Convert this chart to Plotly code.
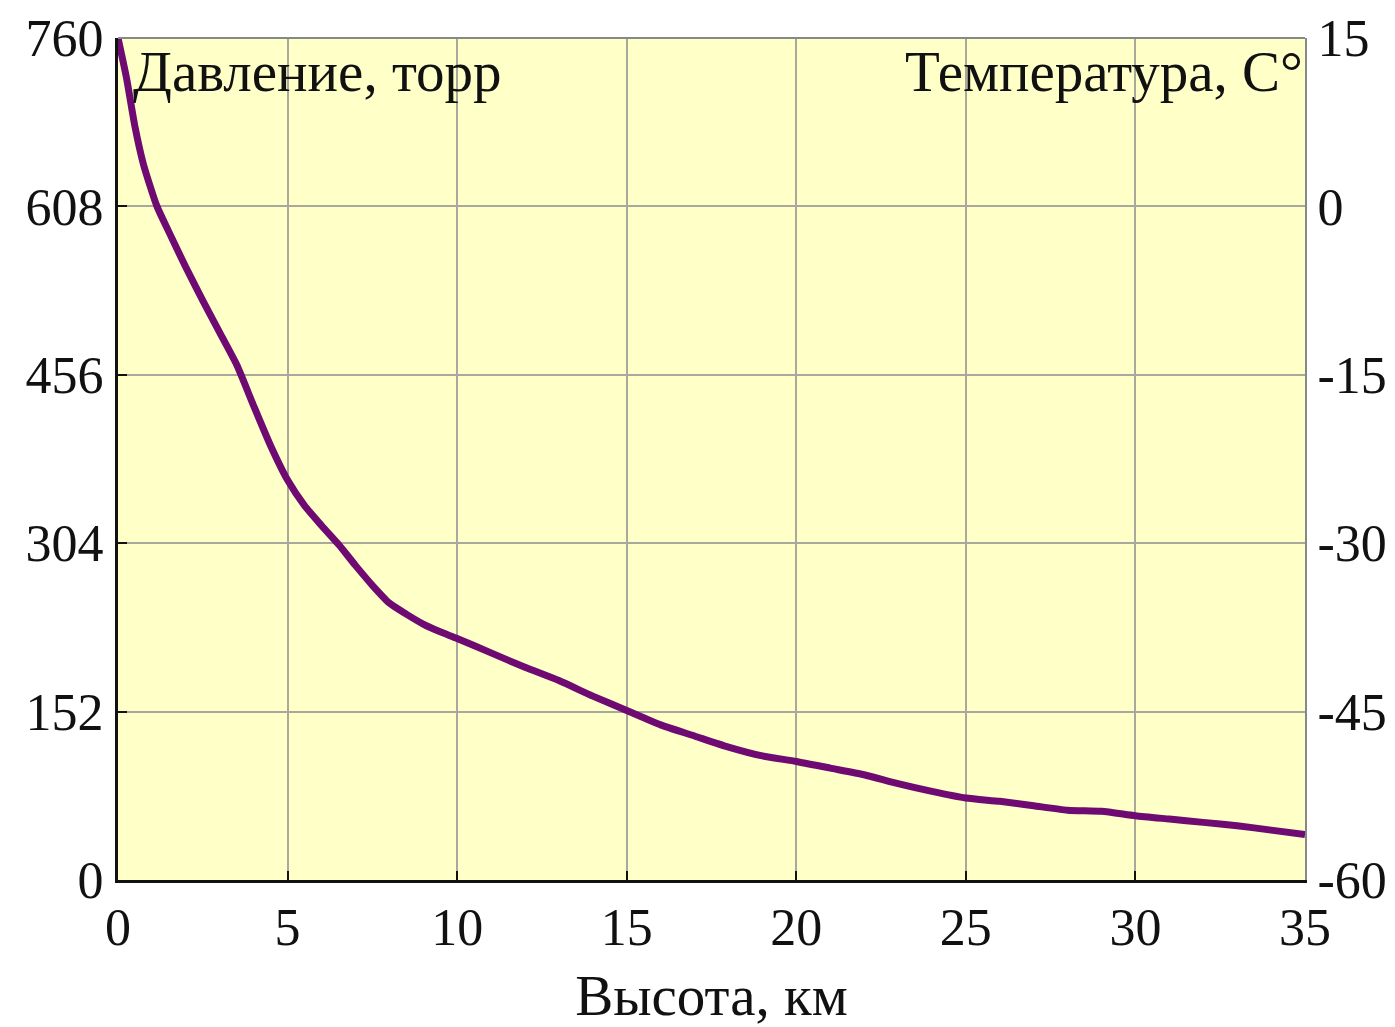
import plotly.graph_objects as go

# Height, km
height_km = [0, 0.25, 0.5, 0.75, 1.15, 1.5, 2, 2.5, 3, 3.5, 4, 4.5, 5, 5.5, 6, 6.5, 7,
             7.5, 8, 8.5, 9, 9.5, 10, 11, 12, 13, 14, 15, 16, 17, 18, 19, 20, 21, 22,
             23, 24, 25, 26, 27, 28, 29, 30, 31, 32, 33, 34, 35]
# Pressure, torr
pressure_torr = [760, 724, 680, 646, 608, 585, 553, 523, 494, 465, 428, 392, 361, 338,
                 320, 303, 284, 266, 250, 240, 231, 224, 218, 205, 192, 180, 166, 153,
                 140, 130, 120, 112, 107, 101, 95, 87, 80, 74, 71, 67, 63, 62, 58, 55,
                 52, 49, 45, 41]

x_ticks = [0, 5, 10, 15, 20, 25, 30, 35]
p_ticks = [0, 152, 304, 456, 608, 760]
t_ticks = [-60, -45, -30, -15, 0, 15]

num_font = dict(family="Liberation Serif, serif", size=52, color="#111111")
txt_font = dict(family="Liberation Serif, serif", size=57, color="#111111")

fig = go.Figure()
fig.add_trace(go.Scatter(x=height_km, y=pressure_torr, mode="lines",
                         line=dict(color="#6E0A72", width=7, shape="spline",
                                   smoothing=0.6),
                         showlegend=False, hoverinfo="x+y"))
# empty trace to carry the temperature axis
fig.add_trace(go.Scatter(x=[None], y=[None], yaxis="y2", showlegend=False,
                         hoverinfo="skip"))

fig.update_layout(
    width=1387, height=1019,
    margin=dict(l=110, r=90, t=30, b=147, autoexpand=False),
    paper_bgcolor="white",
    plot_bgcolor="#FFFFC8",
    xaxis=dict(range=[0, 35], tickvals=x_ticks, ticktext=[str(v) for v in x_ticks],
               showgrid=True, gridcolor="#A8A89C", gridwidth=2,
               showline=True, linecolor="#111111", linewidth=3,
               ticks="inside", ticklen=9, tickwidth=2, tickcolor="#111111",
               tickfont=num_font, zeroline=False, automargin=False,
               title=dict(text="Высота, км", font=txt_font, standoff=22)),
    yaxis=dict(range=[0, 760], tickvals=p_ticks, ticktext=[str(v) for v in p_ticks],
               showgrid=True, gridcolor="#A8A89C", gridwidth=2,
               showline=True, linecolor="#111111", linewidth=3,
               ticks="inside", ticklen=9, tickwidth=2, tickcolor="#111111",
               tickfont=num_font, zeroline=False, ticklabelstandoff=1,
               automargin=False),
    yaxis2=dict(range=[-60, 15], tickvals=t_ticks, ticktext=[str(v) for v in t_ticks],
                overlaying="y", side="right", showgrid=False,
                showline=True, linecolor="#888888", linewidth=2,
                ticks="", tickfont=num_font, zeroline=False, ticklabelstandoff=0,
                automargin=False),
    shapes=[dict(type="line", xref="paper", yref="paper", x0=0, x1=1, y0=1, y1=1,
                 line=dict(color="#888888", width=2))],
    annotations=[
        dict(text="Давление, торр", xref="paper", yref="paper", x=0.011, y=1.0,
             xanchor="left", yanchor="top", showarrow=False, font=txt_font),
        dict(text="Температура, C°", xref="paper", yref="paper", x=1.0, y=1.0,
             xanchor="right", yanchor="top", showarrow=False, font=txt_font),
    ],
)

fig.write_html("out.html")
